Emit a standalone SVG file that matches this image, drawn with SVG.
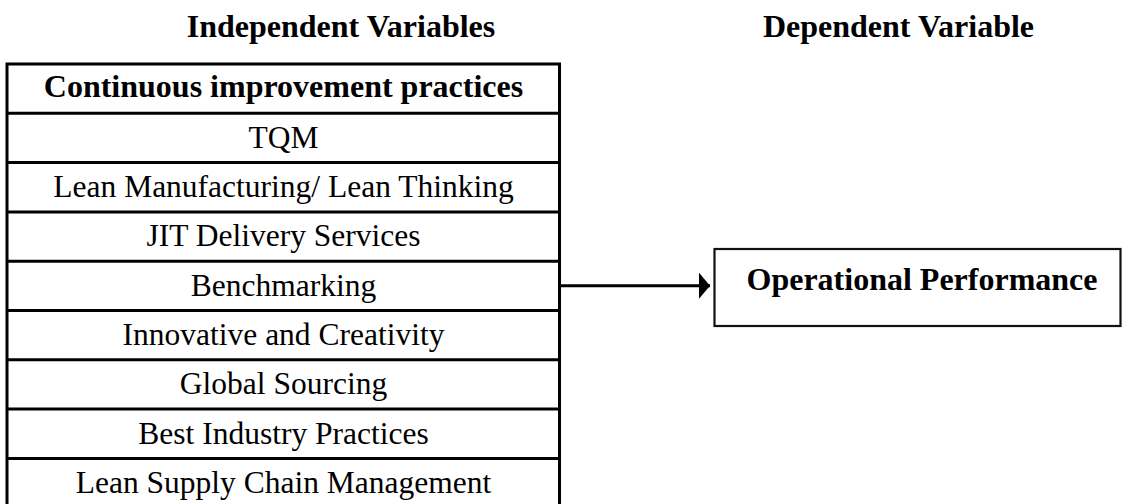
<svg xmlns="http://www.w3.org/2000/svg" width="1122" height="504" viewBox="0 0 1122 504">
  <style>
    .head { font-family: "Liberation Serif", "Times New Roman", serif; font-weight: bold; font-size: 32px; fill: #000; text-anchor: middle; }
    .item { font-family: "Liberation Serif", "Times New Roman", serif; font-size: 31.5px; fill: #000; text-anchor: middle; }
    .grid { stroke: #000; stroke-width: 3; fill: none; }
    .box { stroke: #111; stroke-width: 2.2; fill: #fff; }
    .conn { stroke: #000; stroke-width: 3; fill: none; }
  </style>
  <defs>
    <marker id="arrowhead" markerUnits="userSpaceOnUse" markerWidth="12" markerHeight="26" refX="11" refY="13" orient="auto">
      <path d="M0,0 L11,13 L0,26 Z" fill="#000"/>
    </marker>
  </defs>

  <rect width="1122" height="504" fill="#fff"/>

  <!-- column headings -->
  <text class="head" x="341" y="37">Independent Variables</text>
  <text class="head" x="898.5" y="37">Dependent Variable</text>

  <!-- table of practices -->
  <g id="practices">
    <rect class="grid" x="7" y="64" width="552.5" height="444"/>
    <path class="grid" d="M7,113.3H559.5 M7,162.6H559.5 M7,211.9H559.5 M7,261.2H559.5 M7,310.5H559.5 M7,359.8H559.5 M7,409.1H559.5 M7,458.4H559.5"/>
    <text class="head" x="283.5" y="97">Continuous improvement practices</text>
    <text class="item" x="283.5" y="147.5">TQM</text>
    <text class="item" x="283.5" y="197">Lean Manufacturing/ Lean Thinking</text>
    <text class="item" x="283.5" y="246.3">JIT Delivery Services</text>
    <text class="item" x="283.5" y="295.6">Benchmarking</text>
    <text class="item" x="283.5" y="344.9">Innovative and Creativity</text>
    <text class="item" x="283.5" y="394.2">Global Sourcing</text>
    <text class="item" x="283.5" y="443.5">Best Industry Practices</text>
    <text class="item" x="283.5" y="492.8">Lean Supply Chain Management</text>
  </g>

  <!-- outcome -->
  <g id="operational-performance">
    <rect class="box" x="714.5" y="249" width="406" height="77"/>
    <text class="head" x="922" y="290">Operational Performance</text>
  </g>

  <!-- connectors -->
  <g id="connectors">
    <line class="conn" x1="558" y1="285.7" x2="710" y2="285.7" marker-end="url(#arrowhead)"/>
  </g>
</svg>
